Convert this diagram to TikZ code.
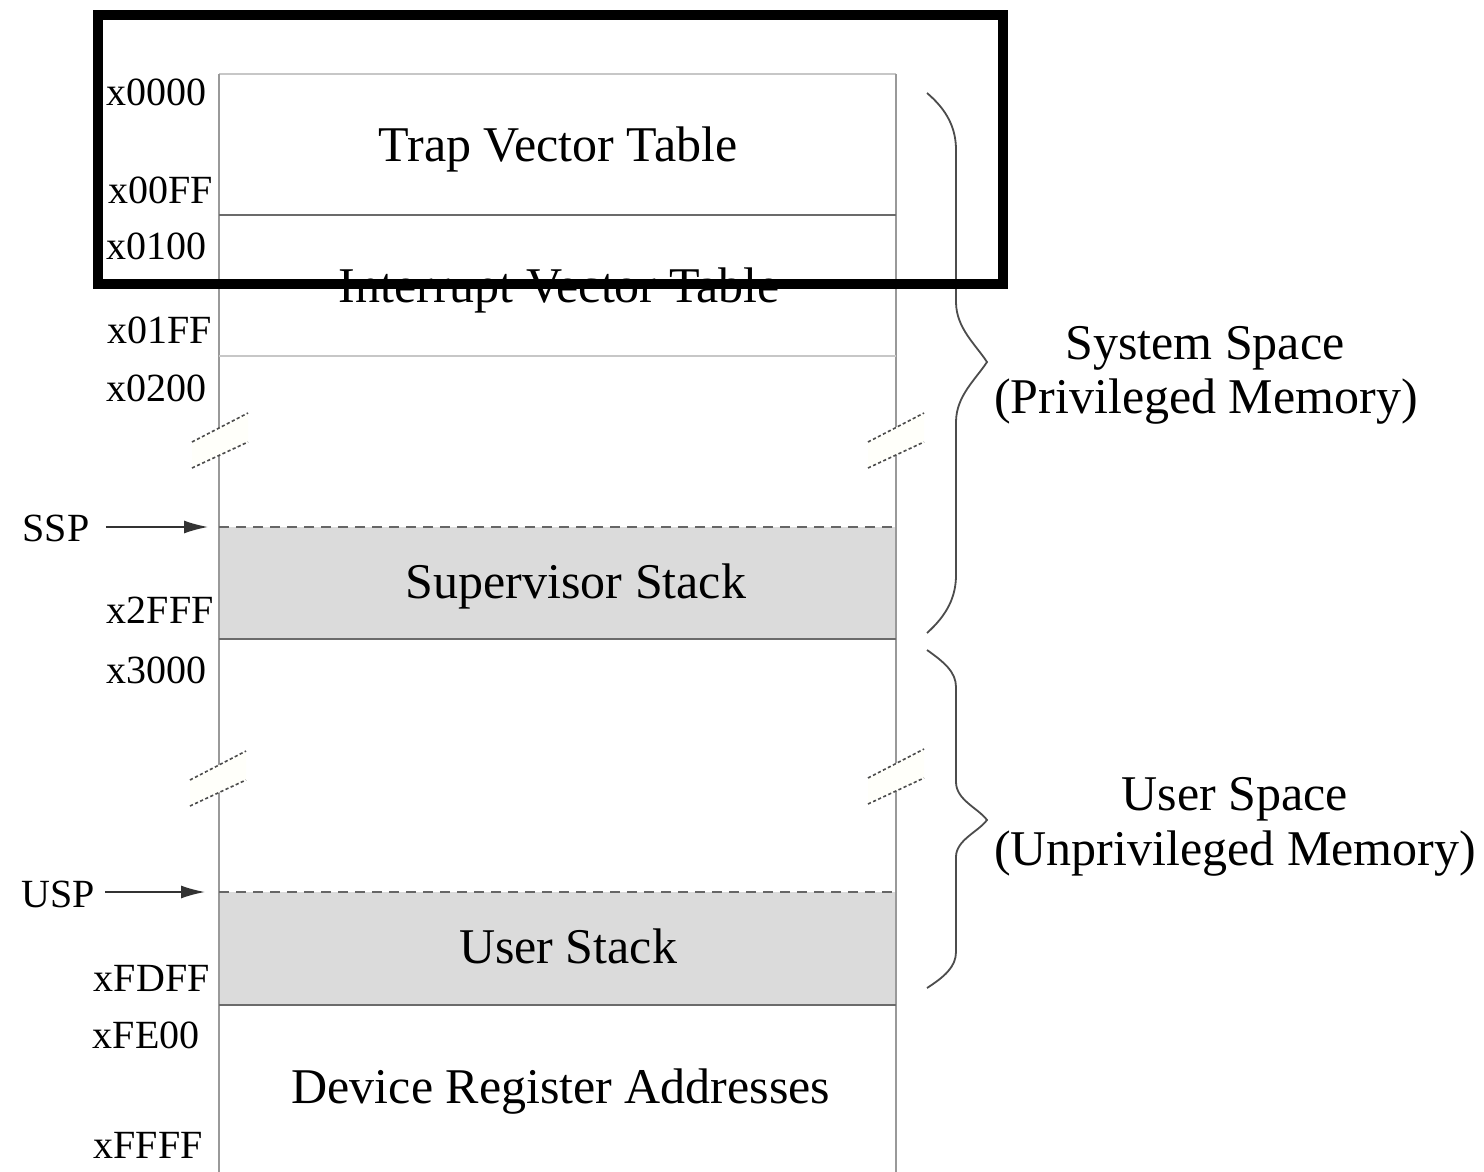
\documentclass[tikz,border=0pt]{standalone}
\usepackage{fontspec}
\setmainfont{Liberation Serif}
\usetikzlibrary{arrows.meta}

\begin{document}
\begin{tikzpicture}[
  x=0.5pt, y=-0.5pt,
  lbl/.style={anchor=base, inner sep=0pt, font=\fontsize{25}{30}\selectfont},
  addr/.style={anchor=east, inner sep=0pt, font=\fontsize{20}{24}\selectfont},
  edge/.style={draw=black!40, line width=1pt},
  divider/.style={draw=black!58, line width=1.4pt},
  faint/.style={draw=black!22, line width=1pt},
  sptr/.style={draw=black!60, line width=1pt, dash pattern=on 5pt off 3.5pt},
  stackfill/.style={fill=black!14},
  gap/.style={fill=yellow!2, draw=none},
  gapline/.style={draw=black!70, line width=0.8pt, dash pattern=on 1.6pt off 1.2pt},
  ptr/.style={draw=black!80, line width=0.75pt, -{Latex[length=12pt,width=6.5pt]}},
  brace/.style={draw=black!70, line width=0.9pt}
]
  \useasboundingbox (0,0) rectangle (1484,1172);

  % stacks
  \fill[stackfill] (219,527) rectangle (896,639);
  \fill[stackfill] (219,892) rectangle (896,1005);

  % memory column
  \draw[faint] (219,74) -- (896,74);
  \draw[edge] (219,74) -- (219,1172);
  \draw[edge] (896,74) -- (896,1172);
  \draw[divider] (219,215) -- (896,215);
  \draw[faint] (219,356) -- (896,356);
  \draw[sptr] (219,527) -- (896,527);
  \draw[divider] (219,639) -- (896,639);
  \draw[sptr] (219,892) -- (896,892);
  \draw[divider] (219,1005) -- (896,1005);

  % breaks in the column
  \foreach \bx/\by in {192/442, 868/442, 190/780, 868/778} {
    \fill[gap] (\bx,\by) -- ++(56,-29) -- ++(0,29) -- ++(-56,26) -- cycle;
    \draw[gapline] (\bx,\by) -- ++(56,-29);
    \draw[gapline] (\bx,\by+26) -- ++(56,-26);
  }

  % region names
  \node[lbl] (trap) at (558,162) {Trap Vector Table};
  \node[lbl] (intr) at (559,302) {Interrupt Vector Table};
  \node[lbl] (sstack) at (576,598) {Supervisor Stack};
  \node[lbl] (ustack) at (568,963) {User Stack};
  \node[lbl] (devreg) at (561,1103) {Device Register Addresses};

  % addresses
  \foreach \ax/\ay/\atext in {207/92/x0000, 213/190/x00FF, 207/246/x0100,
      212/330/x01FF, 207/388/x0200, 214/610/x2FFF, 207/670/x3000,
      210/978/xFDFF, 200/1035/xFE00, 203/1145/xFFFF}
    \node[addr] (a-\atext) at (\ax,\ay) {\atext};

  % stack pointers
  \node[font=\fontsize{20}{24}\selectfont, inner sep=0pt] (ssp) at (56,528) {SSP};
  \coordinate (ssptop) at (208,527);
  \draw[ptr] (ssp.east |- ssptop) ++(16,0) -- (ssptop);
  \node[font=\fontsize{20}{24}\selectfont, inner sep=0pt] (usp) at (58,894) {USP};
  \coordinate (usptop) at (205,892);
  \draw[ptr] (usp.east |- usptop) ++(10,0) -- (usptop);

  % system space brace
  \draw[brace] (927,93) .. controls (947,110) and (956,128) .. (956,150)
    -- (956,302) .. controls (956,328) and (976,345) .. (987,362)
    .. controls (976,379) and (956,396) .. (956,422)
    -- (956,575) .. controls (956,597) and (947,615) .. (927,633);
  \node[font=\fontsize{25}{30}\selectfont, inner sep=0pt, anchor=base] (sys1) at (1205,359) {System Space};
  \node[font=\fontsize{25}{30}\selectfont, inner sep=0pt, anchor=base] (sys2) at (1206,413) {(Privileged Memory)};

  % user space brace
  \draw[brace] (927,650) .. controls (944,662) and (956,672) .. (956,687)
    -- (956,782) .. controls (956,800) and (978,808) .. (987,820)
    .. controls (978,832) and (956,840) .. (956,857)
    -- (956,952) .. controls (956,967) and (944,977) .. (927,988);
  \node[font=\fontsize{25}{30}\selectfont, inner sep=0pt, anchor=base] (usr1) at (1235,810) {User Space};
  \node[font=\fontsize{25}{30}\selectfont, inner sep=0pt, anchor=base] (usr2) at (1235,865) {(Unprivileged Memory)};

  % highlight frame
  \draw[line width=5pt] (98,15) rectangle (1003,284);
\end{tikzpicture}
\end{document}
